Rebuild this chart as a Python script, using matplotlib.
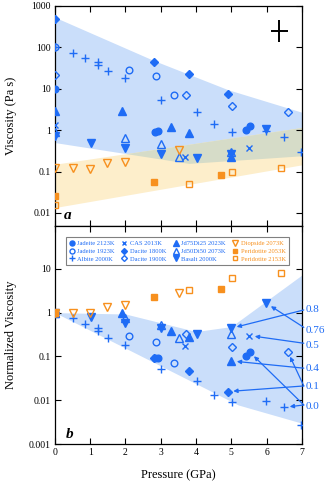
import numpy as np
import matplotlib
matplotlib.use('Agg')
import matplotlib.pyplot as plt
from matplotlib.ticker import FixedLocator, FixedFormatter, NullLocator

plt.rcParams['font.family'] = ['Liberation Serif', 'DejaVu Serif']

BLUE = '#1f6cf5'
ORANGE = '#f7901e'

# ---- data: pressure (GPa), viscosity (Pa s) in panel a, normalized in panel b
jd2123_p = [0, 2.85, 2.92, 5.42, 5.53]
jd2123_a = [10, 0.9, 0.93, 1.0, 1.23]
jd2123_b = [1, 0.09, 0.092, 0.10, 0.124]

jd1923_p = [0, 2.1, 2.86, 3.37]
jd1923_a = [100, 28.6, 20.5, 7.1]
jd1923_b = [1, 0.29, 0.21, 0.072]

ab_p = [0, 0.5, 0.86, 1.21, 1.21, 1.51, 2.0, 3.02, 4.02, 4.5, 5.01, 5.99, 6.5, 6.98]
ab_a = [100, 72, 54, 43, 38, 27, 18, 5.4, 2.8, 1.4, 0.92, 0.96, 0.7, 0.29]
ab_b = [1, 0.74, 0.55, 0.44, 0.39, 0.27, 0.18, 0.052, 0.028, 0.013, 0.0089, 0.0096, 0.0069, 0.0027]

cas_p = [0, 3.7, 5.51]
cas_a = [1.3, 0.22, 0.38]
cas_b = [1, 0.17, 0.30]

dc1800_p = [0, 2.8, 3.8, 4.9]
dc1800_a = [480, 43, 23, 7.5]
dc1800_b = [1, 0.09, 0.047, 0.0158]

dc1900_p = [0, 3.72, 5.01, 6.6]
dc1900_a = [21, 7, 3.9, 2.8]
dc1900_b = [1, 0.33, 0.168, 0.129]

jd75_p = [0, 1.89, 3.3, 3.8, 5.0]
jd75_a = [2.9, 2.9, 1.16, 0.85, 0.23]
jd75_b = [1, 1.0, 0.38, 0.28, 0.079]

jd50_p = [0, 2.0, 3.02, 3.53, 5.0]
jd50_a = [0.9, 0.63, 0.46, 0.22, 0.3]
jd50_b = [1, 0.74, 0.52, 0.26, 0.33]

bas_p = [0, 1.02, 2.0, 3.02, 4.02, 5.0, 5.99]
bas_a = [0.72, 0.48, 0.37, 0.27, 0.21, 0.27, 1.05]
bas_b = [1, 0.81, 0.59, 0.44, 0.33, 0.44, 1.64]

di_p = [0, 0.5, 0.99, 1.49, 2.0, 3.51]
di_a = [0.119, 0.119, 0.114, 0.16, 0.172, 0.33]
di_b = [1, 1.0, 0.98, 1.37, 1.5, 2.77]

pd2053_p = [0, 2.8, 4.71]
pd2053_a = [0.026, 0.056, 0.082]
pd2053_b = [1, 2.3, 3.4]

pd2153_p = [0, 3.8, 5.01, 6.41]
pd2153_a = [0.0158, 0.05, 0.095, 0.125]
pd2153_b = [1, 3.2, 6.1, 8.2]

# shaded envelopes
blue_up_p, blue_up_v = [0, 2.8, 4.9, 7], [530, 48, 9.5, 2.7]
blue_lo_p, blue_lo_v = [0, 3.8, 7], [0.5, 0.157, 0.24]
or_up_p, or_up_v = [0, 7], [0.15, 1.16]
or_lo_p, or_lo_v = [0, 7], [0.0135, 0.145]

nb_up_p, nb_up_v = [0, 2, 4, 5, 7], [1, 0.93, 0.37, 0.48, 7.2]
nb_lo_p, nb_lo_v = [0, 5.2, 7], [1, 0.0078, 0.003]

# NBO/T labels
nbo_labels = ['0.8', '0.76', '0.5', '0.4', '0.1', '0.0']
nbo_label_y = [1.2, 0.40, 0.18, 0.054, 0.0204, 0.0071]

series = [
    ('Jadeite 2123K', jd2123_p, jd2123_a, jd2123_b, 'o', True, BLUE, 4.8),
    ('Jadeite 1923K', jd1923_p, jd1923_a, jd1923_b, 'o', False, BLUE, 4.8),
    ('Albite 2000K', ab_p, ab_a, ab_b, '+', True, BLUE, 6),
    ('CAS 2013K', cas_p, cas_a, cas_b, 'x', True, BLUE, 4.5),
    ('Dacite 1800K', dc1800_p, dc1800_a, dc1800_b, 'D', True, BLUE, 4),
    ('Dacite 1900K', dc1900_p, dc1900_a, dc1900_b, 'D', False, BLUE, 4),
    ('Jd75Di25 2023K', jd75_p, jd75_a, jd75_b, '^', True, BLUE, 5.2),
    ('Jd50Di50 2073K', jd50_p, jd50_a, jd50_b, '^', False, BLUE, 5.2),
    ('Basalt 2000K', bas_p, bas_a, bas_b, 'v', True, BLUE, 5.2),
    ('Diopside 2073K', di_p, di_a, di_b, 'v', False, ORANGE, 5.2),
    ('Peridotite 2053K', pd2053_p, pd2053_a, pd2053_b, 's', True, ORANGE, 4.3),
    ('Peridotite 2153K', pd2153_p, pd2153_a, pd2153_b, 's', False, ORANGE, 4.3),
]


def logint(xs, px, pv):
    return 10 ** np.interp(xs, px, np.log10(pv))


fig = plt.figure(figsize=(3.35, 4.88), dpi=100)
ax_a = fig.add_axes([0.164, 0.537, 0.737, 0.451])
ax_b = fig.add_axes([0.164, 0.090, 0.737, 0.447])

xs = np.linspace(0, 7, 701)
bu = logint(xs, blue_up_p, blue_up_v)
bl = logint(xs, blue_lo_p, blue_lo_v)
ou = logint(xs, or_up_p, or_up_v)
ol = logint(xs, or_lo_p, or_lo_v)
ax_a.fill_between(xs, bl, bu, color='#cadefa', lw=0, zorder=1)
ax_a.fill_between(xs, ol, ou, color='#fdeecb', lw=0, zorder=1)
ax_a.fill_between(xs, bl, ou, where=ou > bl, color='#d6dcc8', lw=0, zorder=1)

ax_b.fill_between(xs, logint(xs, nb_lo_p, nb_lo_v), logint(xs, nb_up_p, nb_up_v),
                  color='#cadefa', lw=0, zorder=1)

handles = []
for name, p, va, vb, m, filled, c, ms in series:
    kw = dict(ls='none', marker=m, ms=ms, color=c, mec=c, mew=1.0, zorder=3,
              mfc=c if filled else 'none', label=name)
    h, = ax_a.plot(p, va, **kw)
    ax_b.plot(p, vb, **kw)
    handles.append(h)

# error cross
ax_a.errorbar([6.36], [250], xerr=0.235, yerr=[[250 - 250 / 1.84], [250 * 1.84 - 250]],
              fmt='none', ecolor='black', elinewidth=1.4, capsize=0, zorder=4)

for ax in (ax_a, ax_b):
    ax.set_yscale('log')
    ax.set_xlim(0, 7)
    ax.xaxis.set_major_locator(FixedLocator(range(8)))
    ax.yaxis.set_minor_locator(NullLocator())
    ax.xaxis.set_minor_locator(NullLocator())
    ax.tick_params(direction='in', top=True, right=True, length=4, width=0.8,
                   labelsize=7, pad=3)
    for s in ax.spines.values():
        s.set_linewidth(0.9)

ax_a.set_ylim(0.00485, 1000)
ya = [0.01, 0.1, 1, 10, 100, 1000]
ax_a.yaxis.set_major_locator(FixedLocator(ya))
ax_a.yaxis.set_major_formatter(FixedFormatter(['0.01', '0.1', '1', '10', '100', '1000']))
ax_a.tick_params(labelbottom=False)
ax_a.set_ylabel('Viscosity (Pa s)', fontsize=9)
ax_a.yaxis.set_label_coords(-0.155, 0.5)
ax_a.text(0.035, 0.03, 'a', transform=ax_a.transAxes, fontsize=11,
          fontweight='bold', style='italic')

ax_b.set_ylim(0.001, 95)
yb = [0.001, 0.01, 0.1, 1, 10, 100]
ax_b.yaxis.set_major_locator(FixedLocator(yb))
ax_b.yaxis.set_major_formatter(FixedFormatter(['0.001', '0.01', '0.1', '1', '10', '']))
ax_b.set_ylabel('Normalized Viscosity', fontsize=9)
ax_b.yaxis.set_label_coords(-0.155, 0.5)
ax_b.set_xlabel('Pressure (GPa)', fontsize=9)
ax_b.xaxis.set_label_coords(0.5, -0.115)
ax_b.text(0.045, 0.03, 'b', transform=ax_b.transAxes, fontsize=11,
          fontweight='bold', style='italic')

# legend, column-wise order
leg = ax_b.legend(handles=handles, loc='upper center', bbox_to_anchor=(0.496, 0.962),
                  ncol=4, fontsize=4.7, frameon=True, fancybox=False, framealpha=1,
                  edgecolor='#808080', handlelength=0.9, handletextpad=0.4,
                  columnspacing=1.0, borderpad=0.45, labelspacing=0.35,
                  markerscale=0.75)
leg.get_frame().set_linewidth(0.8)
for t, s in zip(leg.get_texts(), series):
    t.set_color(s[6])

# NBO/T labels and arrows
ytr = ax_b.get_yaxis_transform()
for lab, y in zip(nbo_labels, nbo_label_y):
    ax_b.text(1.015, y, lab, transform=ytr, ha='left', va='center', fontsize=8,
              color=BLUE, clip_on=False)

arrows = [
    (1.15, bas_p[5], bas_b[5]),
    (0.46, bas_p[6], bas_b[6]),
    (0.20, cas_p[2], cas_b[2]),
    (0.054, jd75_p[4], jd75_b[4]),
    (0.0212, dc1800_p[3], dc1800_b[3]),
    (0.0212, dc1900_p[3], dc1900_b[3]),
    (0.0078, jd2123_p[4], jd2123_b[4]),
    (0.0078, ab_p[12], ab_b[12]),
]
for y0, px, py in arrows:
    ax_b.annotate('', xy=(px, py), xytext=(1.008, y0), textcoords=ytr,
                  annotation_clip=False,
                  arrowprops=dict(arrowstyle='-|>', color=BLUE, lw=0.9,
                                  shrinkA=0, shrinkB=4, mutation_scale=6))

fig.savefig('out.png', dpi=100)
